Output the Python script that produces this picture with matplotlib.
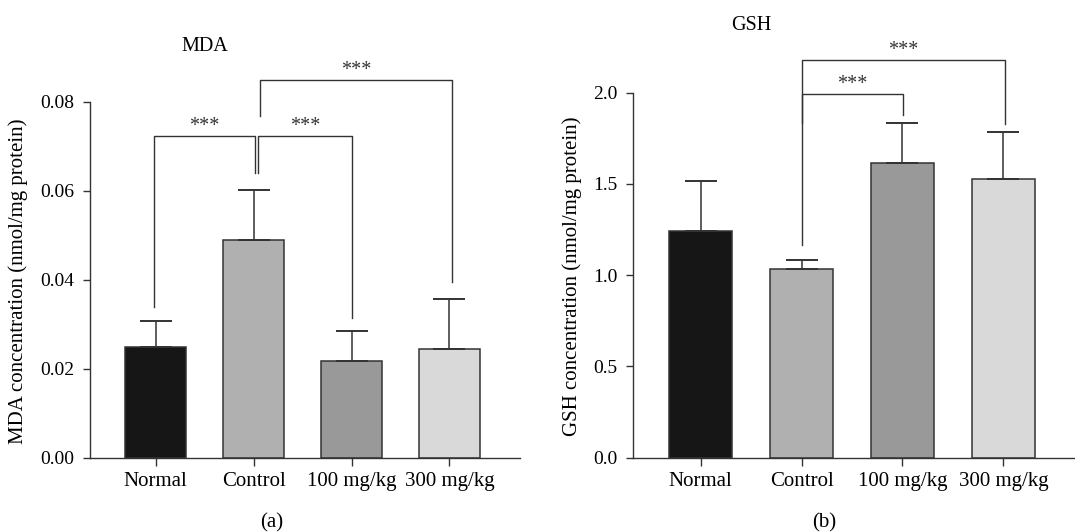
import numpy as np
import matplotlib
matplotlib.use("Agg")
import matplotlib.pyplot as plt

plt.rcParams['font.family'] = ['Liberation Serif', 'DejaVu Serif']
plt.rcParams['font.size'] = 15

# ---- data ----
groups = ['Normal', 'Control', '100 mg/kg', '300 mg/kg']
bar_colors = ['#161616', '#b0b0b0', '#999999', '#d9d9d9']

mda_mean = [0.0249, 0.0489, 0.0218, 0.0244]
mda_sd = [0.0058, 0.0113, 0.0067, 0.0113]

gsh_mean = [1.244, 1.032, 1.616, 1.527]
gsh_sd = [0.270, 0.053, 0.218, 0.258]

# brackets: (x left, x right, left leg bottom, top, right leg bottom, label)
mda_brackets = [
    (-0.017, 1.013, 0.0339, 0.0724, 0.0639, '***'),
    (1.041, 2.006, 0.0640, 0.0724, 0.0315, '***'),
    (1.064, 3.030, 0.0768, 0.0849, 0.0395, '***'),
]
gsh_brackets = [
    (1.0, 2.006, 1.832, 1.991, 1.878, '***'),
    (1.0, 3.020, 1.165, 2.178, 1.829, '***'),
]

ink = '#333333'


def draw_panel(ax, mean, sd, brackets, title, title_y, yticks, fmt, xlim):
    x = np.arange(len(groups))
    ax.bar(x, mean, width=0.63, color=bar_colors, edgecolor=ink, linewidth=1.1, zorder=2)
    ax.errorbar(x, mean, yerr=[np.zeros(len(sd)), sd], fmt='none', ecolor=ink,
                elinewidth=1.1, capsize=11.5, capthick=1.4, zorder=3)
    for xl, xr, yl, yt, yr, lab in brackets:
        ax.plot([xl, xl, xr, xr], [yl, yt, yt, yr], color=ink, lw=1.0, clip_on=False, zorder=4)
        ax.annotate(lab, xy=((xl + xr) / 2, yt), xytext=(0, 3.5), textcoords='offset points',
                    ha='center', va='baseline', color=ink, fontsize=14.5, annotation_clip=False)
    ax.text(0.5, title_y, title, transform=ax.get_xaxis_transform(), ha='center', va='center',
            fontsize=14.5)
    ax.set_xlim(*xlim)
    ax.set_ylim(yticks[0], yticks[-1])
    ax.set_yticks(yticks)
    ax.set_yticklabels([fmt.format(v) for v in yticks], fontsize=14)
    ax.set_xticks(x)
    ax.set_xticklabels(groups, fontsize=15)
    for s in ['top', 'right']:
        ax.spines[s].set_visible(False)
    for s in ['left', 'bottom']:
        ax.spines[s].set_color(ink)
        ax.spines[s].set_linewidth(1.0)
    ax.tick_params(axis='y', direction='out', length=5, width=1.0, color=ink, pad=6)
    ax.tick_params(axis='x', direction='out', length=6, width=1.0, color=ink, pad=4)


fig = plt.figure(figsize=(10.75, 5.32), dpi=100)
ax1 = fig.add_axes([0.0837, 0.1397, 0.400, 0.6691])
ax2 = fig.add_axes([0.5886, 0.1397, 0.4110, 0.6861])

draw_panel(ax1, mda_mean, mda_sd, mda_brackets, 'MDA', 1.155,
           [0.0, 0.02, 0.04, 0.06, 0.08], '{:.2f}', (-0.67, 3.72))
draw_panel(ax2, gsh_mean, gsh_sd, gsh_brackets, 'GSH', 1.185,
           [0.0, 0.5, 1.0, 1.5, 2.0], '{:.1f}', (-0.673, 3.706))

fig.text(0.0167, 0.472, 'MDA concentration (nmol/mg protein)', rotation=90, ha='center', va='center')
fig.text(0.532, 0.481, 'GSH concentration (nmol/mg protein)', rotation=90, ha='center', va='center')
fig.text(0.253, 0.017, '(a)', ha='center', va='center')
fig.text(0.7665, 0.017, '(b)', ha='center', va='center')

fig.savefig('out.png', dpi=100)
